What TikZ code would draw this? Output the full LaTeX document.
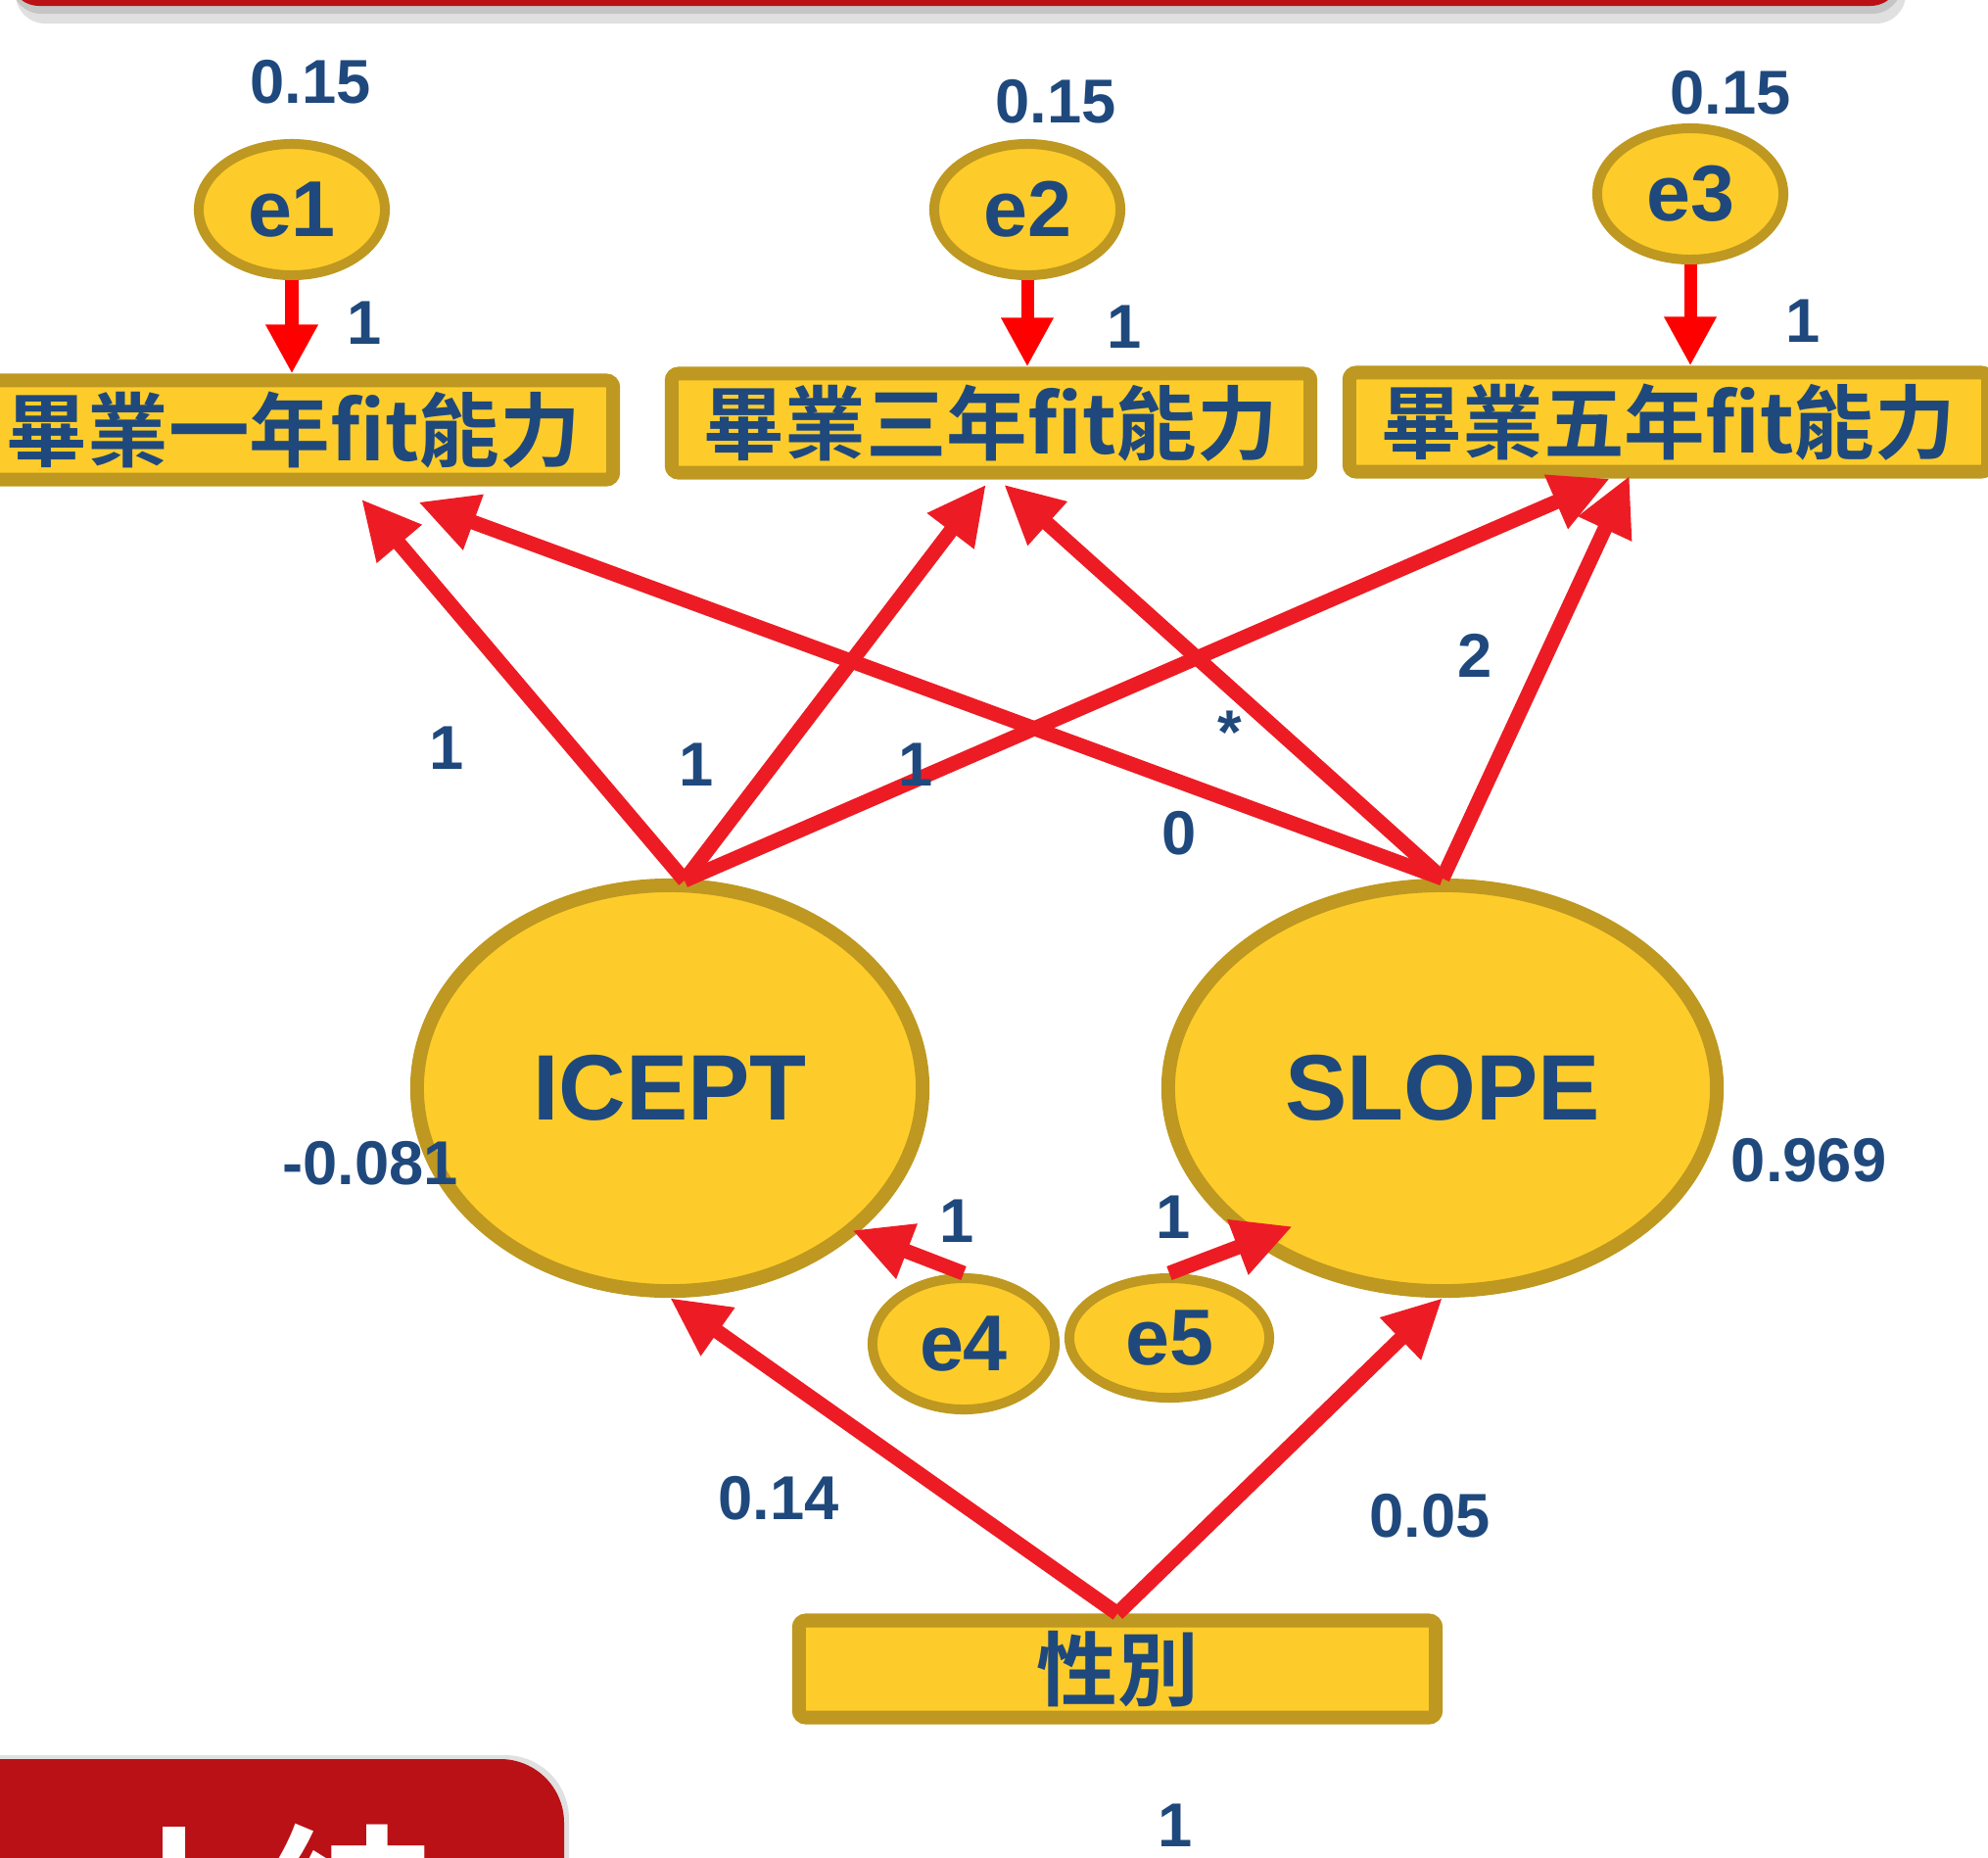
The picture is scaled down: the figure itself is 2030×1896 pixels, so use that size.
\documentclass[tikz,border=0pt]{standalone}
\usepackage{fontspec}
\setmainfont{Liberation Sans}
\newfontfamily\cjk{Noto Sans CJK TC}[BoldFont={* Bold}]
\usetikzlibrary{arrows.meta, shapes.geometric, calc}

\definecolor{gold}{HTML}{FDCC2B}
\definecolor{goldline}{HTML}{BE9820}
\definecolor{navy}{HTML}{1F497D}
\definecolor{pathred}{HTML}{ED1C24}
\definecolor{errred}{HTML}{FF0000}
\definecolor{barred}{HTML}{B91116}

\tikzset{
  latent/.style={ellipse, draw=goldline, fill=gold, line width=0.14cm, inner sep=0, text=navy, font=\bfseries\fontsize{27}{27}\selectfont},
  err/.style={ellipse, draw=goldline, fill=gold, line width=0.1cm, inner sep=0, text=navy, minimum width=1.9cm, minimum height=1.34cm, font=\bfseries\fontsize{23}{23}\selectfont},
  obs/.style={rectangle, draw=goldline, fill=gold, line width=0.14cm, rounded corners=2pt, inner sep=0, minimum width=6.52cm, minimum height=1.01cm, text=navy, font=\cjk\bfseries\fontsize{23.5}{23.5}\selectfont},
  arr/.style={draw=pathred, line width=0.15cm, -{Triangle[length=0.6cm,width=0.56cm]}},
  errarr/.style={draw=errred, line width=0.13cm, -{Triangle[length=0.5cm,width=0.5cm]}},
  lab/.style={text=navy, inner sep=0, font=\bfseries\fontsize{18}{18}\selectfont},
}

\begin{document}
\begin{tikzpicture}[x=0.01cm, y=-0.01cm]
\useasboundingbox (0,0) rectangle (2030,1896);

% banner and tab
\fill[black, opacity=.12, rounded corners=0.3cm] (16,-60) rectangle (1946,24);
\fill[black, opacity=.12, rounded corners=0.3cm] (12,-60) rectangle (1942,14);
\fill[barred, rounded corners=0.3cm] (10,-60) rectangle (1940,6);
\begin{scope}
\clip (0,1780) rectangle (2030,1896);
\fill[black, opacity=.12, rounded corners=0.65cm] (-60,1792) rectangle (581,2100);
\fill[barred, rounded corners=0.65cm] (-60,1796) rectangle (576,2100);
\node[text=white, font=\cjk\bfseries\fontsize{50}{50}\selectfont, anchor=base] (tab) at (265,2012) {小結};
\end{scope}

\node[err] (e1) at (298,214) {e1};
\node[err] (e2) at (1049,214) {e2};
\node[err] (e3) at (1726,198) {e3};
\node[obs] (y1) at (300,439) {畢業一年fit能力};
\node[obs] (y3) at (1012,432) {畢業三年fit能力};
\node[obs] (y5) at (1704,431) {畢業五年fit能力};
\node[latent, minimum width=5.16cm, minimum height=4.14cm] (icept) at (684,1111) {ICEPT};
\node[latent, minimum width=5.6cm, minimum height=4.14cm] (slope) at (1473,1111) {SLOPE};
\node[err, minimum width=1.86cm] (e4) at (984,1372) {e4};
\node[err, minimum width=2.04cm, minimum height=1.22cm] (e5) at (1194,1366) {e5};
\node[obs, minimum width=6.5cm, minimum height=0.99cm] (sex) at (1141,1704) {性別};

\draw[errarr] (e1.south) -- (e1.south |- y1.north);
\draw[errarr] (e2.south) -- (e2.south |- y3.north);
\draw[errarr] (e3.south) -- (e3.south |- y5.north);

\coordinate (ia) at ($(icept.north)+(15,2)$);
\coordinate (sa) at (slope.north);
\coordinate (ga) at (sex.north);
\draw[arr] (ia) -- ($(y1.south)+(69,13)$);
\draw[arr] (ia) -- ($(y3.south)+(-5,5)$);
\draw[arr] (ia) -- ($(y5.south)+(-60,0)$);
\draw[arr] (sa) -- ($(y1.south)+(127,16)$);
\draw[arr] (sa) -- ($(y3.south)+(13,5)$);
\draw[arr] (sa) -- ($(y5.south)+(-40,-3)$);
\draw[arr] (ga) -- (icept.south);
\draw[arr] (ga) -- (slope.south);
\draw[arr] (e4.north) -- ($(icept.center)+(186,145)$);
\draw[arr] (e5.north) -- ($(slope.center)+(-153,141)$);

\node[lab] (v1) at (317,84) {0.15};
\node[lab] (v2) at (1078,104) {0.15};
\node[lab] (v3) at (1767,95) {0.15};
\node[lab] (w1) at (372,330) {1};
\node[lab] (w2) at (1148,334) {1};
\node[lab] (w3) at (1841,328) {1};
\node[lab] (l1) at (456,764) {1};
\node[lab] (l2) at (711,781) {1};
\node[lab] (l3) at (935,781) {1};
\node[lab] (l4) at (1204,851) {0};
\node[lab] (l5) at (1256,748) {*};
\node[lab] (l6) at (1506,669) {2};
\node[lab] (m1) at (378,1188) {-0.081};
\node[lab] (m2) at (1847,1185) {0.969};
\node[lab] (w4) at (977,1247) {1};
\node[lab] (w5) at (1198,1243) {1};
\node[lab] (g1) at (795,1530) {0.14};
\node[lab] (g2) at (1460,1548) {0.05};
\node[lab] (b1) at (1200,1864) {1};

\end{tikzpicture}
\end{document}
